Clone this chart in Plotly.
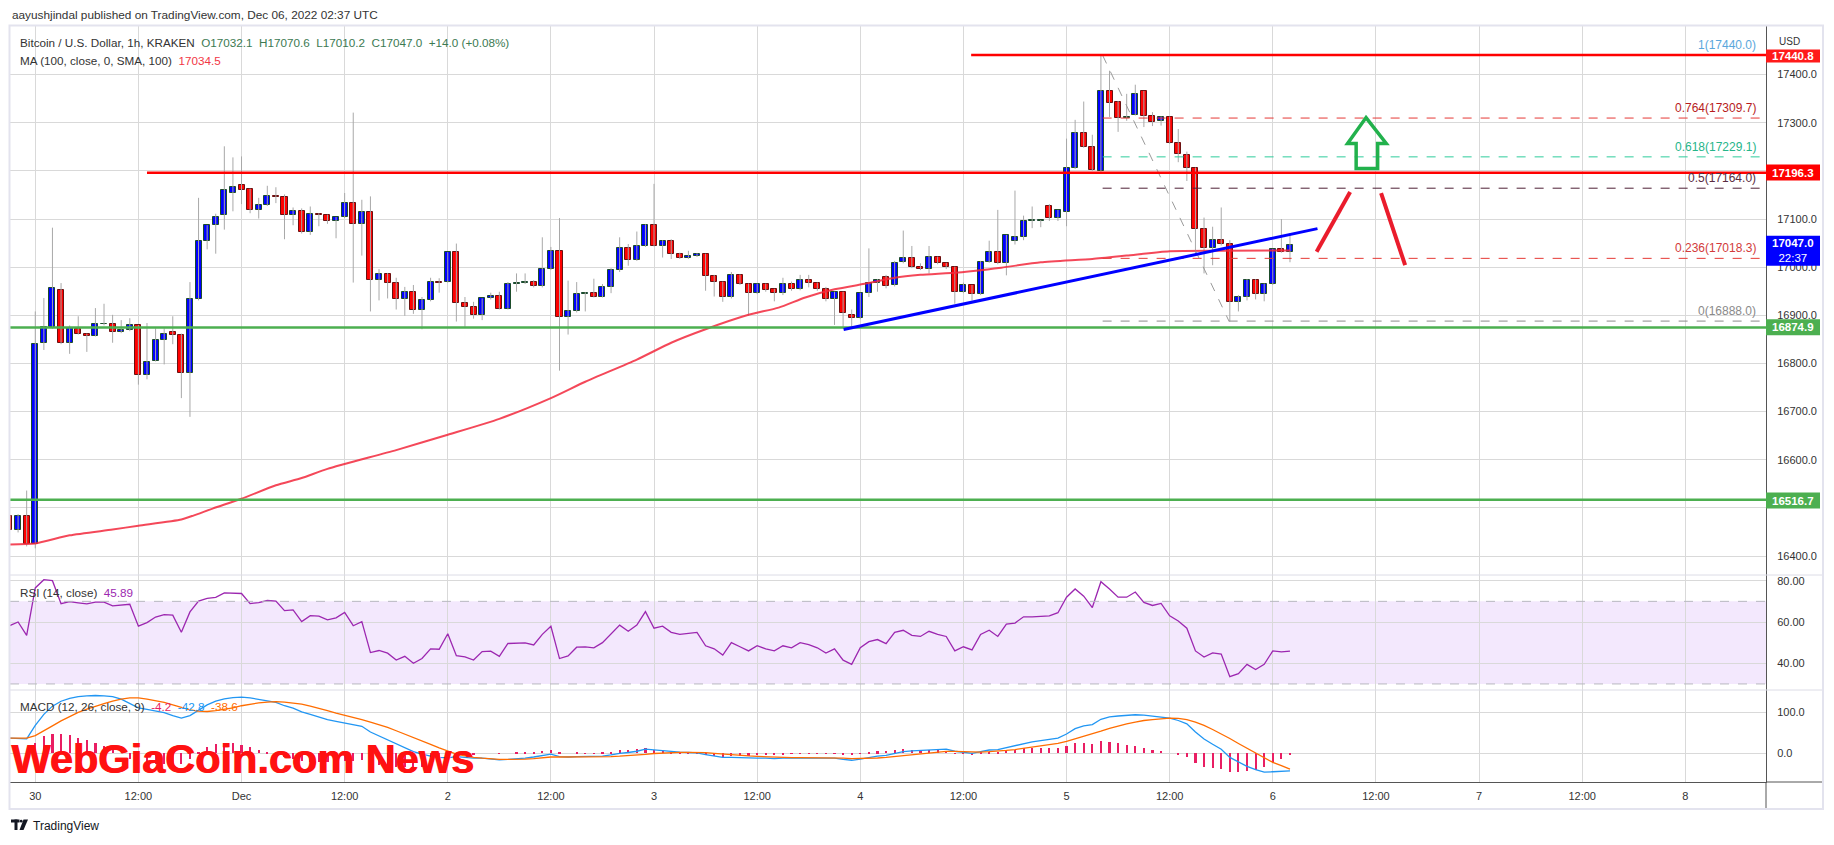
import plotly.graph_objects as go
from plotly.subplots import make_subplots

# The page body adds an 8px margin; work in screen pixels and convert.
OFF = 8
W, H = 1834 - OFF, 845 - OFF
ML, MR, MT, MB = 2, 68, 18, 63
PW, PH = W - ML - MR, H - MT - MB


def px(x):
    return (x - OFF - ML) / PW


def py(y):
    return (H - MB - (y - OFF)) / PH


FONT = "Liberation Sans"

# ---------------- data (hours relative to Nov 30 00:00 UTC) ----------------
start_hour = -3
opens = [16483, 16454, 16483, 16424, 16842, 16876, 16952, 16843, 16871, 16862,
         16858, 16881, 16881, 16865, 16869, 16879, 16777, 16806, 16848, 16865,
         16860, 16781, 16933, 17054, 17087, 17108, 17154, 17171, 17162, 17119,
         17129, 17148, 17146, 17108, 17117, 17072, 17110, 17108, 17096, 17104,
         17133, 17089, 17115, 16974, 16985, 16968, 16933, 16949, 16912, 16931,
         16969, 16970, 17031, 16926, 16918, 16901, 16935, 16940, 16914, 16965,
         16967, 16969, 16960, 16996, 17033, 16896, 16908, 16944, 16946, 16939,
         16958, 16994, 17040, 17015, 17044, 17087, 17043, 17054, 17028, 17019,
         17023, 17027, 16981, 16969, 16938, 16983, 16965, 16946, 16965, 16954,
         16946, 16965, 16954, 16973, 16967, 16954, 16933, 16948, 16901, 16894,
         16946, 16967, 16979, 16962, 17010, 17019, 17000, 16996, 17021, 17008,
         17000, 16948, 16962, 16944, 17011, 17031, 17008, 17054, 17062, 17096,
         17096, 17127, 17102, 17115, 17206, 17279, 17250, 17200, 17365, 17344,
         17309, 17317, 17365, 17315, 17304, 17312, 17258, 17233, 17206, 17079,
         17040, 17056, 17048, 16927, 16937, 16973, 16944, 16965, 17037, 17032.1]
highs = [16492, 16487, 16536, 16908, 16936, 17082, 16967, 16879, 16898, 16862,
         16915, 16924, 16901, 16890, 16894, 16880, 16884, 16873, 16873, 16898,
         16862, 16969, 17144, 17087, 17111, 17251, 17228, 17230, 17163, 17144,
         17169, 17166, 17151, 17124, 17122, 17126, 17112, 17109, 17104, 17154,
         17321, 17140, 17147, 16996, 16988, 16978, 16959, 16963, 16938, 16978,
         16977, 17031, 17049, 16938, 16928, 16935, 16947, 16949, 16969, 16987,
         16987, 16973, 17062, 17042, 17102, 16972, 16969, 16948, 16976, 16965,
         16998, 17062, 17048, 17074, 17089, 17173, 17056, 17058, 17030, 17034,
         17029, 17028, 16984, 16970, 16990, 16985, 16966, 16966, 16966, 16955,
         16978, 16970, 16984, 16984, 16968, 16959, 16949, 16949, 16912, 16947,
         17039, 16975, 16984, 17013, 17076, 17044, 17008, 17044, 17022, 17009,
         17001, 16968, 16963, 17013, 17055, 17119, 17067, 17159, 17107, 17126,
         17098, 17131, 17119, 17267, 17306, 17344, 17275, 17442, 17408, 17345,
         17360, 17379, 17366, 17322, 17313, 17313, 17287, 17240, 17207, 17103,
         17084, 17124, 17056, 16942, 16975, 16975, 16966, 17038, 17100, 17070.6]
lows = [16445, 16449, 16420, 16416, 16828, 16872, 16840, 16820, 16860, 16824,
        16856, 16879, 16843, 16863, 16867, 16756, 16767, 16804, 16798, 16840,
        16728, 16689, 16931, 17037, 17028, 17078, 17116, 17131, 17112, 17101,
        17127, 17133, 17058, 17087, 17070, 17067, 17085, 17090, 17060, 17102,
        16968, 17024, 16908, 16931, 16935, 16912, 16899, 16903, 16871, 16929,
        16947, 16968, 16887, 16876, 16893, 16890, 16933, 16912, 16912, 16949,
        16965, 16958, 16958, 16994, 16785, 16860, 16906, 16908, 16937, 16937,
        16946, 16990, 17003, 17013, 17042, 17043, 17020, 17017, 17017, 17017,
        17021, 16951, 16939, 16928, 16935, 16963, 16899, 16944, 16949, 16929,
        16942, 16951, 16952, 16958, 16951, 16929, 16880, 16876, 16876, 16892,
        16938, 16949, 16956, 16960, 17008, 16998, 16994, 16987, 17006, 16996,
        16924, 16946, 16931, 16942, 17009, 17006, 16983, 17047, 17056, 17081,
        17083, 17096, 17096, 17085, 17204, 17248, 17200, 17198, 17312, 17281,
        17304, 17315, 17291, 17293, 17294, 17256, 17218, 17179, 17027, 16987,
        17004, 17045, 16887, 16908, 16931, 16933, 16929, 16963, 17030, 17010.2]
closes = [16454, 16483, 16424, 16840, 16876, 16956, 16842, 16873, 16862, 16858,
          16881, 16882, 16865, 16869, 16879, 16777, 16803, 16848, 16862, 16860,
          16781, 16933, 17054, 17087, 17104, 17161, 17166, 17160, 17119, 17129,
          17148, 17146, 17108, 17117, 17072, 17110, 17108, 17096, 17104, 17133,
          17089, 17115, 16974, 16985, 16968, 16933, 16949, 16912, 16931, 16969,
          16968, 17031, 16926, 16918, 16901, 16935, 16940, 16914, 16965, 16967,
          16969, 16960, 16996, 17033, 16896, 16908, 16944, 16946, 16939, 16958,
          16994, 17040, 17015, 17044, 17087, 17043, 17054, 17028, 17019, 17023,
          17027, 16981, 16969, 16938, 16983, 16965, 16946, 16965, 16952, 16946,
          16965, 16954, 16973, 16967, 16954, 16933, 16948, 16904, 16894, 16946,
          16967, 16974, 16960, 17008, 17019, 17000, 16996, 17021, 17008, 17000,
          16948, 16962, 16944, 17011, 17031, 17008, 17067, 17062, 17096, 17097,
          17098, 17102, 17119, 17206, 17279, 17250, 17202, 17365, 17342, 17310,
          17311, 17360, 17315, 17302, 17312, 17258, 17235, 17206, 17079, 17040,
          17056, 17048, 16927, 16937, 16973, 16944, 16965, 17037, 17031, 17047.0]

ma_hours = [-3, 0, 4, 9, 12, 17, 18.4, 20.7, 24, 28, 31, 34, 42, 48, 54, 60, 64,
            70, 74, 78, 83, 86.5, 89.6, 93, 97, 100, 103, 107.4, 112.4, 117, 123,
            127, 132, 138, 146]
ma_vals = [16424, 16426, 16443, 16455, 16463, 16476, 16484, 16499, 16519, 16547,
           16562, 16581, 16620, 16652, 16685, 16728, 16762, 16808, 16843, 16871,
           16901, 16916, 16937, 16954, 16967, 16978, 16984, 16989, 16999, 17010,
           17017, 17024, 17033, 17034, 17034.5]

rsi = [58.2, 60.0, 53.5, 76.5, 80.5, 80.0, 68.9, 69.9, 69.3, 68.8, 69.6, 69.6,
       67.8, 68.1, 68.6, 58.0, 59.7, 62.4, 63.6, 63.3, 55.0, 64.9, 70.1, 71.4,
       71.9, 74.1, 74.1, 73.8, 68.9, 69.4, 70.4, 70.1, 65.5, 65.9, 60.2, 63.1,
       62.8, 61.0, 62.0, 64.6, 58.2, 60.2, 45.2, 46.2, 44.9, 41.6, 43.4, 40.0,
       42.3, 47.0, 46.8, 54.3, 43.7, 43.1, 41.6, 45.7, 45.9, 43.4, 49.6, 49.8,
       49.9, 48.9, 54.0, 57.9, 42.3, 43.6, 47.8, 48.0, 47.5,
       50.0, 54.0, 58.5, 55.5, 58.5, 65.0, 57.0, 58.0, 55.0, 54.0, 54.5, 55.0,
       48.5, 47.0, 44.0, 50.0, 48.0, 46.0, 48.5, 47.0, 46.0, 48.5, 47.5, 50.0,
       49.0, 47.5, 45.0, 47.0, 41.5, 39.5, 47.5, 50.5, 51.5, 49.5, 55.0, 56.0,
       53.5, 53.0, 55.5, 54.0, 53.0, 46.0, 48.0, 46.5, 54.0, 56.0, 53.0, 59.0,
       59.5, 62.5, 62.5, 62.7, 63.0, 64.5, 72.0, 76.0, 72.5, 67.0, 79.5, 76.0,
       72.0, 72.0, 74.5, 69.5, 68.0, 69.0, 63.0, 60.5, 57.0, 46.0, 43.0, 45.0,
       44.5, 33.5, 35.0, 39.5, 37.0, 39.5, 46.0, 45.5, 45.89]

macd = [37, 36, 35, 68, 95, 115, 127, 134, 138, 140, 141, 140, 138, 132, 122,
        111, 107, 103, 99, 92, 86, 92, 106, 118, 127, 133, 136, 137, 135, 132,
        128, 124, 116, 110, 101, 95, 89, 82, 78, 74, 70, 66, 52, 42, 32, 22, 14,
        4, -2, -7, -10, -11, -8, -10, -12, -12, -14, -16, -15, -14, -12, -9, -5,
        -2, -8, -9, -8, -8, -8,
        -7, -4, 0, 2, 5, 10, 8, 7, 5, 3, 2, 1, -3, -6, -10, -10, -11, -12, -12,
        -12, -13, -12, -12, -11, -11, -11, -12, -12, -15, -17, -14, -10, -7, -5,
        0, 4, 6, 7, 9, 10, 10, 5, 3, 0, 4, 8, 9, 14, 18, 24, 28, 31, 34, 37, 47,
        60, 67, 70, 83, 89, 91, 92, 94, 93, 91, 89, 86, 80, 72, 52, 35, 22, 10,
        -10, -22, -32, -40, -46, -45, -44, -42.8]
signal = [37, 37, 37, 43, 54, 67, 79, 90, 100, 108, 115, 121, 127, 132, 135,
          135, 132, 128, 124, 118, 112, 106, 103, 102, 104, 107, 111, 116, 120,
          123, 125, 126, 125, 123, 120, 115, 110, 104, 98, 93, 88, 82, 76, 70,
          63, 55, 47, 39, 31, 22, 13, 5, -2, -6, -10, -12, -14, -15, -15, -15,
          -14, -13, -11, -9, -9, -9, -9, -8.5, -8.5,
          -8.5, -8, -7, -6, -4.5, -2.5, -0.5, 1, 2, 2.5, 2.5, 2.5, 1.5, 0, -2,
          -3.5, -5, -6.5, -7.5, -8.5, -9.5, -10, -10.5, -10.5, -10.5, -10.5, -11,
          -11, -12, -13, -13, -12.5, -11.5, -10, -8, -5.5, -3, -1, 1, 3, 4.5,
          4.5, 4, 3, 3, 4, 5, 7, 9, 12, 15, 18, 21, 24, 29, 35, 41, 47, 54, 61,
          67, 72, 76, 80, 82, 84, 86, 85, 82, 76, 68, 58, 48, 36, 24, 12, 0, -12,
          -22, -30, -38.6]

tick_hours = list(range(0, 193, 12))
tick_text = ["30", "12:00", "Dec", "12:00", "2", "12:00", "3", "12:00", "4",
             "12:00", "5", "12:00", "6", "12:00", "7", "12:00", "8"]

price_ticks = list(range(16400, 17401, 100))
price_tick_text = ["16400.0", "", "16600.0", "16700.0", "16800.0", "16900.0",
                   "17000.0", "17100.0", "", "17300.0", "17400.0"]

res_high, res_mid = 17440.8, 17196.3
sup_mid, sup_low = 16874.9, 16516.7
fib_levels = [1, 0.764, 0.618, 0.5, 0.236, 0]
fib_prices = [17440.0, 17309.7, 17229.1, 17164.0, 17018.3, 16888.0]
fib_start_hour, fib_end_hour = 124.2, 138.9
trend_start = (94.06, 16870.6)
trend_end = (149.2, 17080.0)

hours = list(range(start_hour, start_hour + len(opens)))

# ---------------- figure ----------------
X_RANGE = [-2.94, 201.39]
fig = make_subplots(rows=3, cols=1, shared_xaxes=True, vertical_spacing=0)

# wicks
wx, wy = [], []
for h, hi, lo in zip(hours, highs, lows):
    wx += [h, h, None]
    wy += [lo, hi, None]
fig.add_trace(go.Scatter(x=wx, y=wy, mode="lines", line=dict(color="#a8a8a8", width=1),
                         hoverinfo="skip"), row=1, col=1)

up = [c >= o for o, c in zip(opens, closes)]
fig.add_trace(go.Bar(
    x=hours, base=opens, y=[c - o for o, c in zip(opens, closes)], width=0.7,
    marker=dict(color=["#0000ff" if u else "#ff0000" for u in up],
                line=dict(color=["#1d4d2b" if u else "#6b1010" for u in up], width=1)),
    hoverinfo="skip"), row=1, col=1)

fig.add_trace(go.Scatter(x=ma_hours, y=ma_vals, mode="lines",
                         line=dict(color="rgba(242,40,60,0.85)", width=2, shape="spline",
                                   smoothing=0.6),
                         hoverinfo="skip"), row=1, col=1)

# RSI
fig.add_trace(go.Scatter(x=hours, y=rsi, mode="lines", line=dict(color="#9c27b0", width=1.3),
                         hoverinfo="skip"), row=2, col=1)

# MACD
hist = [m - s for m, s in zip(macd, signal)]
fig.add_trace(go.Bar(x=hours, y=hist, width=0.25, marker=dict(color="#e91e63", line=dict(width=0)),
                     hoverinfo="skip"), row=3, col=1)
fig.add_trace(go.Scatter(x=hours, y=macd, mode="lines", line=dict(color="#2196f3", width=1.3),
                         hoverinfo="skip"), row=3, col=1)
fig.add_trace(go.Scatter(x=hours, y=signal, mode="lines", line=dict(color="#ff6d00", width=1.3),
                         hoverinfo="skip"), row=3, col=1)

GRID = "#d9d9d9"
axis_common = dict(range=X_RANGE, showgrid=True, gridcolor=GRID, gridwidth=1, zeroline=False,
                   tickvals=tick_hours, ticktext=tick_text, fixedrange=True, automargin=False)
fig.update_xaxes(**axis_common)
fig.update_xaxes(showticklabels=False, row=1, col=1)
fig.update_xaxes(showticklabels=False, row=2, col=1)
fig.update_xaxes(showticklabels=True, row=3, col=1, ticks="", ticklabelstandoff=4,
                 tickfont=dict(family=FONT, size=11, color="#333333"),
                 showline=True, linecolor="#555555", linewidth=1)

yax_common = dict(side="right", showgrid=True, gridcolor=GRID, zeroline=False, ticks="",
                  showline=True, linecolor="#555555", linewidth=1, ticklabelstandoff=8,
                  tickfont=dict(family=FONT, size=11, color="#333333"), fixedrange=True,
                  automargin=False)
fig.update_yaxes(**yax_common)
fig.update_layout(
    yaxis=dict(domain=[py(575), 1], range=[16360.6, 17500.9],
               tickvals=price_ticks, ticktext=price_tick_text),
    yaxis2=dict(domain=[py(690), py(575)], range=[27.07, 82.76],
                tickvals=[40, 60, 80], tickformat=".2f"),
    yaxis3=dict(domain=[0, py(690)], range=[-70, 154.4],
                tickvals=[0, 100], tickformat=".1f"),
)

shapes = []
# RSI band
shapes.append(dict(type="rect", xref="x2 domain", x0=0, x1=1, yref="y2", y0=30, y1=70,
                   fillcolor="#f3e8fd", line=dict(width=0), layer="below"))
for lvl in (70, 30):
    shapes.append(dict(type="line", xref="x2 domain", x0=0, x1=1, yref="y2", y0=lvl, y1=lvl,
                       line=dict(color="#b8b8c0", width=1, dash="dash")))

# Fibonacci
fib_line_colors = ["#6d8fb8", "#e53935", "#2ecc9c", "#4d1f35", "#e53935", "#8a8a8a"]
fib_text_colors = ["#5ba7dc", "#b71c1c", "#26b58a", "#5a2b40", "#d23b3b", "#8a8a8a"]
for p, c in zip(fib_prices, fib_line_colors):
    shapes.append(dict(type="line", xref="x", yref="y", x0=fib_start_hour, x1=X_RANGE[1],
                       y0=p, y1=p, line=dict(color=c, width=1, dash="dash")))
shapes.append(dict(type="line", xref="x", yref="y", x0=fib_start_hour, y0=fib_prices[0],
                   x1=fib_end_hour, y1=fib_prices[-1], line=dict(color="#9a9a9a", width=1,
                                                              dash="dash")))
# support / resistance
shapes.append(dict(type="line", xref="x", yref="y", x0=108.9, x1=X_RANGE[1], y0=res_high,
                   y1=res_high, line=dict(color="#ff0000", width=2.5)))
shapes.append(dict(type="line", xref="x", yref="y", x0=13.0, x1=X_RANGE[1], y0=res_mid,
                   y1=res_mid, line=dict(color="#ff0000", width=2.5)))
for p in (sup_mid, sup_low):
    shapes.append(dict(type="line", xref="x", yref="y", x0=X_RANGE[0], x1=X_RANGE[1], y0=p,
                       y1=p, line=dict(color="#4caf50", width=2.5)))
# trend line
shapes.append(dict(type="line", xref="x", yref="y", x0=trend_start[0], y0=trend_start[1],
                   x1=trend_end[0], y1=trend_end[1], line=dict(color="#0000ff", width=3)))
# red hand-drawn strokes
shapes.append(dict(type="line", xref="x", yref="y", x0=149.1, y0=17032, x1=153.0, y1=17156,
                   line=dict(color="#ea1c2c", width=4)))
shapes.append(dict(type="line", xref="x", yref="y", x0=156.6, y0=17154, x1=159.4, y1=17004,
                   line=dict(color="#ea1c2c", width=4)))
# green arrow
arrow_pts = [(154.85, 17310.7), (157.2, 17256.8), (156.2, 17256.8), (156.2, 17204.9),
             (153.7, 17204.9), (153.7, 17256.8), (152.7, 17256.8)]
path = "M " + " L ".join(f"{x},{y}" for x, y in arrow_pts) + " Z"
shapes.append(dict(type="path", xref="x", yref="y", path=path,
                   line=dict(color="#22b14c", width=3.5)))

# pane separators and frame
for yy in (575, 690):
    shapes.append(dict(type="line", xref="paper", yref="paper", x0=px(10), x1=px(1823),
                       y0=py(yy), y1=py(yy), line=dict(color="#dcdce6", width=1)))
shapes.append(dict(type="line", xref="paper", yref="paper", x0=px(1766), x1=px(1766),
                   y0=py(782), y1=py(809), line=dict(color="#555555", width=1)))
shapes.append(dict(type="line", xref="paper", yref="paper", x0=px(1766), x1=px(1823),
                   y0=py(782), y1=py(782), line=dict(color="#555555", width=1)))
shapes.append(dict(type="rect", xref="paper", yref="paper", x0=px(9.5), x1=px(1823),
                   y0=py(809), y1=py(25.5), line=dict(color="#e3e3ee", width=2),
                   fillcolor="rgba(0,0,0,0)"))

annotations = []


def badge(yc, h, color, text):
    shapes.append(dict(type="rect", xref="paper", yref="paper", x0=px(1766), x1=px(1820),
                       y0=py(yc + h / 2), y1=py(yc - h / 2), fillcolor=color,
                       line=dict(width=0), layer="above"))
    annotations.append(dict(xref="paper", yref="paper", x=px(1793), y=py(yc), text=text,
                            showarrow=False, xanchor="center", yanchor="middle",
                            font=dict(family=FONT, size=11.5, color="white")))


badge(56, 13, "#ff1a1a", "<b>17440.8</b>")
badge(172.5, 16, "#ff0000", "<b>17196.3</b>")
badge(250.7, 30, "#0000ff", "<b>17047.0</b><br>22:37")
badge(327.3, 16, "#4caf50", "<b>16874.9</b>")
badge(500.5, 16, "#4caf50", "<b>16516.7</b>")

# fib labels
for lvl, p, c in zip(fib_levels, fib_prices, fib_text_colors):
    annotations.append(dict(xref="paper", yref="y", x=px(1758), y=p, yshift=1,
                            text=f"{lvl}({p:.1f})", showarrow=False, xanchor="right",
                            yanchor="bottom", font=dict(family=FONT, size=12, color=c)))

sp = "\u00a0\u00a0"
annotations += [
    dict(xref="paper", yref="paper", x=px(10), y=py(15), xanchor="left", yanchor="middle",
         showarrow=False, text="aayushjindal published on TradingView.com, Dec 06, 2022 02:37 UTC",
         font=dict(family=FONT, size=11.8, color="#333333")),
    dict(xref="paper", yref="paper", x=px(18), y=py(43), xanchor="left", yanchor="middle",
         showarrow=False,
         text=("Bitcoin / U.S. Dollar, 1h, KRAKEN" + sp + "<span style='color:#3c7a52'>O17032.1"
               + sp + "H17070.6" + sp + "L17010.2" + sp + "C17047.0" + sp
               + "+14.0 (+0.08%)</span>"),
         font=dict(family=FONT, size=11.7, color="#333333")),
    dict(xref="paper", yref="paper", x=px(18), y=py(60), xanchor="left", yanchor="middle",
         showarrow=False,
         text="MA (100, close, 0, SMA, 100)" + sp + "<span style='color:#f23645'>17034.5</span>",
         font=dict(family=FONT, size=11.7, color="#333333")),
    dict(xref="paper", yref="paper", x=px(18), y=py(592), xanchor="left", yanchor="middle",
         showarrow=False,
         text="RSI (14, close)" + sp + "<span style='color:#9c27b0'>45.89</span>",
         font=dict(family=FONT, size=11.7, color="#333333")),
    dict(xref="paper", yref="paper", x=px(18), y=py(706), xanchor="left", yanchor="middle",
         showarrow=False,
         text=("MACD (12, 26, close, 9)" + sp + "<span style='color:#e91e63'>-4.2</span>" + sp
               + "<span style='color:#2196f3'>-42.8</span>" + sp
               + "<span style='color:#ff6d00'>-38.6</span>"),
         font=dict(family=FONT, size=11.7, color="#333333")),
    dict(xref="paper", yref="paper", x=px(1777), y=py(41), xanchor="left", yanchor="middle",
         showarrow=False, text="USD", font=dict(family=FONT, size=10, color="#333333")),
    dict(xref="paper", yref="paper", x=px(31), y=py(826), xanchor="left", yanchor="middle",
         showarrow=False, text="TradingView", font=dict(family=FONT, size=12, color="#131722")),
]
# watermark
for dx in (0, 0.8):
    annotations.append(dict(xref="paper", yref="paper", x=px(9 + dx), y=py(758), xanchor="left",
                            yanchor="middle", showarrow=False, text="<b>WebGiaCoin.com News</b>",
                            font=dict(family=FONT, size=41.5, color="#ff1111")))

# TradingView logo
shapes += [
    dict(type="rect", xref="paper", yref="paper", x0=px(11), x1=px(19.5), y0=py(822.5),
         y1=py(819.5), fillcolor="#131722", line=dict(width=0)),
    dict(type="rect", xref="paper", yref="paper", x0=px(14.5), x1=px(17.5), y0=py(830),
         y1=py(819.5), fillcolor="#131722", line=dict(width=0)),
    dict(type="circle", xref="paper", yref="paper", x0=px(19.8), x1=px(22.6), y0=py(822.6),
         y1=py(819.8), fillcolor="#131722", line=dict(width=0)),
    dict(type="path", xref="paper", yref="paper",
         path=f"M {px(23.5)},{py(819.5)} L {px(28)},{py(819.5)} L {px(23.5)},{py(830)} "
              f"L {px(19.5)},{py(830)} Z",
         fillcolor="#131722", line=dict(width=0)),
]

fig.update_layout(
    width=W, height=H, margin=dict(l=ML, r=MR, t=MT, b=MB, autoexpand=False),
    paper_bgcolor="white", plot_bgcolor="white", showlegend=False, bargap=0,
    barmode="overlay", hovermode=False, shapes=shapes, annotations=annotations,
    font=dict(family=FONT, size=11, color="#333333"),
)

fig.write_html("out.html")
